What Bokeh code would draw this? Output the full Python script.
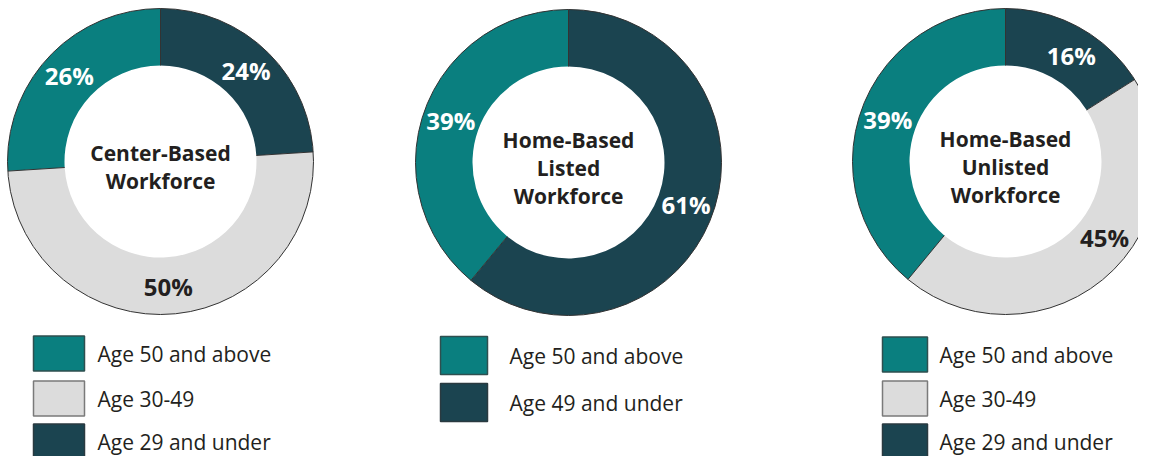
import math
from bokeh.plotting import figure
from bokeh.models import Range1d
from bokeh.core.properties import value
from bokeh.embed import file_html
from bokeh.resources import INLINE

# ---------------- data ----------------
center_title = ["Center-Based", "Workforce"]
center_cats = ["Age 29 and under", "Age 30-49", "Age 50 and above"]
center_vals = [24, 50, 26]

listed_title = ["Home-Based", "Listed", "Workforce"]
listed_cats = ["Age 49 and under", "Age 50 and above"]
listed_vals = [61, 39]

unlisted_title = ["Home-Based", "Unlisted", "Workforce"]
unlisted_cats = ["Age 29 and under", "Age 30-49", "Age 50 and above"]
unlisted_vals = [16, 45, 39]

legend_center = ["Age 50 and above", "Age 30-49", "Age 29 and under"]
legend_listed = ["Age 50 and above", "Age 49 and under"]
legend_unlisted = ["Age 50 and above", "Age 30-49", "Age 29 and under"]

# ---------------- styles ----------------
TEAL, GRAY, DARK = "#0a7f7f", "#dcdcdc", "#1b4450"
TXT = "#231f20"
fill = {"Age 50 and above": TEAL, "Age 30-49": GRAY,
        "Age 29 and under": DARK, "Age 49 and under": DARK}
lab_col = {"Age 50 and above": "white", "Age 30-49": TXT,
           "Age 29 and under": "white", "Age 49 and under": "white"}
box_line = {"Age 50 and above": "#2f4f4f", "Age 30-49": "#7a7a7a",
            "Age 29 and under": "#2a3a40", "Age 49 and under": "#2a3a40"}
FONT = value("Open Sans")

W, H = 1138, 456
TOP = 472  # reference-pixel frame: y_up = TOP - y_pixel


def Y(yref):
    return TOP - yref


p = figure(width=W, height=H, output_backend="svg", toolbar_location=None,
           x_range=Range1d(0, W), y_range=Range1d(TOP - H, TOP),
           min_border=0)
p.axis.visible = False
p.grid.visible = False
p.outline_line_color = None
p.background_fill_color = "white"

R_OUT, R_IN, R_LAB = 153, 96, 125

charts = [
    dict(title=center_title, cats=center_cats, vals=center_vals, cx=160, cy=161,
         legend=legend_center, box_cx=58.5, box_w=51, box_h=35,
         rows=[353, 398, 441], text_x=97, nudge=[0, 0, 0]),
    dict(title=listed_title, cats=listed_cats, vals=listed_vals, cx=568, cy=162,
         legend=legend_listed, box_cx=463.5, box_w=47, box_h=38,
         rows=[355, 402], text_x=509, nudge=[0, 0]),
    dict(title=unlisted_title, cats=unlisted_cats, vals=unlisted_vals, cx=1005, cy=161,
         legend=legend_unlisted, box_cx=904.5, box_w=45, box_h=35,
         rows=[354, 398, 441], text_x=939, nudge=[3, -11, 0]),
]

for ch in charts:
    cx, cy = ch["cx"], Y(ch["cy"])
    total = float(sum(ch["vals"]))
    cum = 0.0
    starts, ends, cols, bx0, by0, bx1, by1 = [], [], [], [], [], [], []
    lx, ly, lt, lc = [], [], [], []
    for cat, v, nd in zip(ch["cats"], ch["vals"], ch["nudge"]):
        c0 = cum / total
        cum += v
        c1 = cum / total
        starts.append(math.pi / 2 - 2 * math.pi * c0)
        ends.append(math.pi / 2 - 2 * math.pi * c1)
        cols.append(fill[cat])
        a = 2 * math.pi * c0
        bx0.append(cx + R_IN * math.sin(a)); by0.append(cy + R_IN * math.cos(a))
        bx1.append(cx + R_OUT * math.sin(a)); by1.append(cy + R_OUT * math.cos(a))
        m = 2 * math.pi * (c0 + c1) / 2 + math.radians(nd)
        lx.append(cx + R_LAB * math.sin(m)); ly.append(cy + R_LAB * math.cos(m))
        lt.append(f"{v}%"); lc.append(lab_col[cat])
    n = len(starts)
    p.annular_wedge(x=[cx] * n, y=[cy] * n, inner_radius=R_IN, outer_radius=R_OUT,
                    start_angle=starts, end_angle=ends, direction="clock",
                    fill_color=cols, line_color=None)
    p.circle(x=[cx], y=[cy], radius=R_OUT, fill_color=None,
             line_color="#333333", line_width=1)
    p.segment(x0=bx0, y0=by0, x1=bx1, y1=by1, line_color="#333333", line_width=1)
    p.text(x=lx, y=ly, text=lt, text_color=lc, text_font=FONT,
           text_font_style="bold", text_font_size="24px",
           text_align="center", text_baseline="middle")
    # center title
    k = len(ch["title"])
    ty = [cy - 5 - (i - (k - 1) / 2) * 28 for i in range(k)]
    p.text(x=[cx] * k, y=ty, text=ch["title"], text_color=TXT, text_font=FONT,
           text_font_style="bold", text_font_size="21px",
           text_align="center", text_baseline="middle")
    # legend
    L = len(ch["legend"])
    ry = [Y(r) for r in ch["rows"][:L]]
    p.rect(x=[ch["box_cx"]] * L, y=ry, width=ch["box_w"], height=ch["box_h"],
           fill_color=[fill[c] for c in ch["legend"]],
           line_color=[box_line[c] for c in ch["legend"]], line_width=1.5)
    p.text(x=[ch["text_x"]] * L, y=ry, text=ch["legend"], text_color=TXT,
           text_font=FONT, text_font_size="21px",
           text_align="left", text_baseline="middle")

open("out.html", "w").write(file_html(p, INLINE))
